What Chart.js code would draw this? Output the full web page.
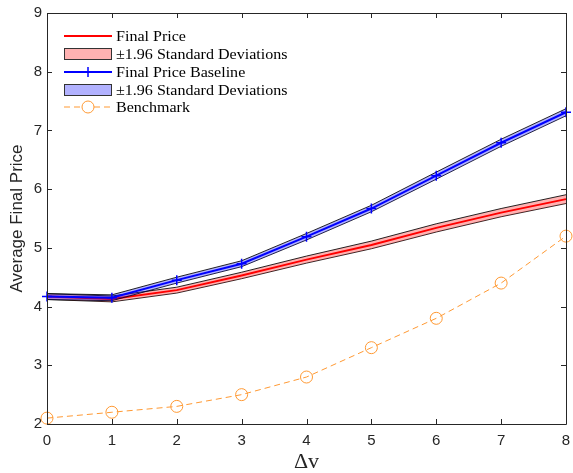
<!DOCTYPE html>
<html><head><meta charset="utf-8">
<script src="https://cdn.jsdelivr.net/npm/chart.js@4.4.0/dist/chart.umd.min.js"></script>
<style>html,body{margin:0;padding:0;background:#fff;} #wrap{width:573px;height:473px;}</style>
</head><body><div id="wrap"><canvas id="c" width="573" height="473"></canvas></div>
<script>
const deltaV = [0, 1, 2, 3, 4, 5, 6, 7, 8];
const finalPrice = [4.17, 4.13, 4.28, 4.53, 4.80, 5.05, 5.34, 5.60, 5.83];
const finalPriceCI = [0.05, 0.05, 0.05, 0.055, 0.06, 0.065, 0.07, 0.07, 0.075];
const baseline = [4.17, 4.15, 4.45, 4.73, 5.19, 5.67, 6.23, 6.79, 7.31];
const baselineCI = [0.05, 0.05, 0.05, 0.05, 0.055, 0.055, 0.06, 0.06, 0.06];
const benchmark = [2.1, 2.2, 2.3, 2.5, 2.8, 3.3, 3.8, 4.4, 5.2];
const xTicks = [0, 1, 2, 3, 4, 5, 6, 7, 8];
const yTicks = [2, 3, 4, 5, 6, 7, 8, 9];
const legendLabels = ['Final Price', '\u00b11.96 Standard Deviations', 'Final Price Baseline', '\u00b11.96 Standard Deviations', 'Benchmark'];

const RED = '#ff0000', BLUE = '#0000ff', ORANGE = '#ff9933';
const RED_FILL = 'rgba(255,0,0,0.3)', BLUE_FILL = 'rgba(0,0,255,0.3)';
const AX = '#262626';

const pts = (ys, off, sign) => deltaV.map((x, i) => ({x: x, y: ys[i] + (off ? sign * off[i] : 0)}));

const boxPlugin = {
  id: 'boxTicks',
  afterDatasetsDraw(chart) {
    const {ctx, chartArea: a, scales: {x, y}} = chart;
    ctx.save();
    ctx.strokeStyle = AX; ctx.lineWidth = 1;
    ctx.beginPath();
    ctx.rect(Math.round(a.left) + 0.5, Math.round(a.top) + 0.5, Math.round(a.right - a.left), Math.round(a.bottom - a.top));
    ctx.stroke();
    const L = 5;
    ctx.beginPath();
    xTicks.forEach(v => {
      const px = Math.round(x.getPixelForValue(v)) + 0.5;
      ctx.moveTo(px, a.bottom); ctx.lineTo(px, a.bottom - L);
      ctx.moveTo(px, a.top); ctx.lineTo(px, a.top + L);
    });
    yTicks.forEach(v => {
      const py = Math.round(y.getPixelForValue(v)) + 0.5;
      ctx.moveTo(a.left, py); ctx.lineTo(a.left + L, py);
      ctx.moveTo(a.right, py); ctx.lineTo(a.right - L, py);
    });
    ctx.stroke();
    ctx.restore();
  },
  afterDraw(chart) {
    const ctx = chart.ctx;
    const rows = [36, 54, 72, 90, 107];
    const x0 = 64, x1 = 112, tx = 116;
    ctx.save();
    ctx.strokeStyle = RED; ctx.lineWidth = 2;
    ctx.beginPath(); ctx.moveTo(x0, rows[0]); ctx.lineTo(x1, rows[0]); ctx.stroke();
    ctx.fillStyle = RED_FILL; ctx.fillRect(x0, rows[1] - 6, x1 - x0, 12);
    ctx.strokeStyle = '#333'; ctx.lineWidth = 1; ctx.strokeRect(x0 + 0.5, rows[1] - 5.5, x1 - x0 - 1, 11);
    ctx.strokeStyle = BLUE; ctx.lineWidth = 2;
    ctx.beginPath(); ctx.moveTo(x0, rows[2]); ctx.lineTo(x1, rows[2]); ctx.stroke();
    ctx.lineWidth = 1.5;
    ctx.beginPath(); ctx.moveTo(88, rows[2] - 5); ctx.lineTo(88, rows[2] + 5); ctx.moveTo(83, rows[2]); ctx.lineTo(93, rows[2]); ctx.stroke();
    ctx.fillStyle = BLUE_FILL; ctx.fillRect(x0, rows[3] - 6, x1 - x0, 12);
    ctx.strokeStyle = '#333'; ctx.lineWidth = 1; ctx.strokeRect(x0 + 0.5, rows[3] - 5.5, x1 - x0 - 1, 11);
    ctx.strokeStyle = ORANGE; ctx.lineWidth = 1;
    ctx.setLineDash([6, 4]);
    ctx.beginPath(); ctx.moveTo(x0, rows[4]); ctx.lineTo(82, rows[4]); ctx.moveTo(94, rows[4]); ctx.lineTo(x1, rows[4]); ctx.stroke();
    ctx.setLineDash([]);
    ctx.beginPath(); ctx.arc(88, rows[4], 6, 0, Math.PI * 2); ctx.stroke();
    ctx.fillStyle = '#000';
    ctx.font = '15px "Liberation Serif", serif';
    ctx.textBaseline = 'middle';
    ctx.textAlign = 'left';
    legendLabels.forEach((t, i) => {
      ctx.save();
      ctx.translate(tx, rows[i] + 1);
      ctx.scale(1.07, 1);
      ctx.fillText(t, 0, 0);
      ctx.restore();
    });
    ctx.restore();
  }
};

new Chart(document.getElementById('c'), {
  type: 'line',
  data: {
    datasets: [
      {data: pts(finalPrice, finalPriceCI, -1), borderColor: 'rgba(0,0,0,0.85)', borderWidth: 1, pointRadius: 0, fill: false, order: 6},
      {data: pts(finalPrice, finalPriceCI, 1), borderColor: 'rgba(0,0,0,0.85)', borderWidth: 1, pointRadius: 0, fill: 0, backgroundColor: RED_FILL, order: 5},
      {data: pts(finalPrice), borderColor: RED, borderWidth: 2, pointRadius: 0, fill: false, order: 4},
      {data: pts(baseline, baselineCI, -1), borderColor: 'rgba(0,0,0,0.85)', borderWidth: 1, pointRadius: 0, fill: false, order: 3},
      {data: pts(baseline, baselineCI, 1), borderColor: 'rgba(0,0,0,0.85)', borderWidth: 1, pointRadius: 0, fill: 3, backgroundColor: BLUE_FILL, order: 2},
      {data: pts(baseline), borderColor: BLUE, borderWidth: 2, pointStyle: 'cross', pointRadius: 5, pointBorderWidth: 1.5, pointBorderColor: BLUE, fill: false, order: 1},
      {data: pts(benchmark), borderColor: ORANGE, borderWidth: 1, borderDash: [6, 4], pointStyle: 'circle', pointRadius: 6, pointBorderWidth: 1, pointBorderColor: ORANGE, pointBackgroundColor: 'rgba(0,0,0,0)', fill: false, order: 0}
    ]
  },
  options: {
    responsive: false,
    animation: false,
    devicePixelRatio: 1,
    clip: false,
    layout: {padding: {top: 13, right: 5, left: 0, bottom: 0}},
    plugins: {legend: {display: false}, tooltip: {enabled: false}},
    elements: {line: {tension: 0}},
    scales: {
      x: {
        type: 'linear', min: 0, max: 8,
        afterBuildTicks: s => { s.ticks = xTicks.map(v => ({value: v})); },
        afterFit: s => { s.height = 49; s.paddingLeft = 0; s.paddingRight = 0; },
        grid: {display: false, drawTicks: false},
        border: {display: false},
        ticks: {color: AX, padding: 8, font: {family: '"Liberation Sans", Arial, sans-serif', size: 15}},
        title: {display: true, text: '\u0394v', color: AX, padding: {top: 0, bottom: 0}, font: {family: '"Liberation Serif", serif', size: 22, lineHeight: 1}}
      },
      y: {
        type: 'linear', min: 2, max: 9,
        afterBuildTicks: s => { s.ticks = yTicks.map(v => ({value: v})); },
        afterFit: s => { s.width = 47; s.paddingTop = 0; s.paddingBottom = 0; },
        grid: {display: false, drawTicks: false},
        border: {display: false},
        ticks: {color: AX, padding: 5, font: {family: '"Liberation Sans", Arial, sans-serif', size: 15}},
        title: {display: true, text: 'Average Final Price', color: AX, padding: {top: 7, bottom: 0}, font: {family: '"Liberation Sans", Arial, sans-serif', size: 17}}
      }
    }
  },
  plugins: [boxPlugin]
});
</script></body></html>
